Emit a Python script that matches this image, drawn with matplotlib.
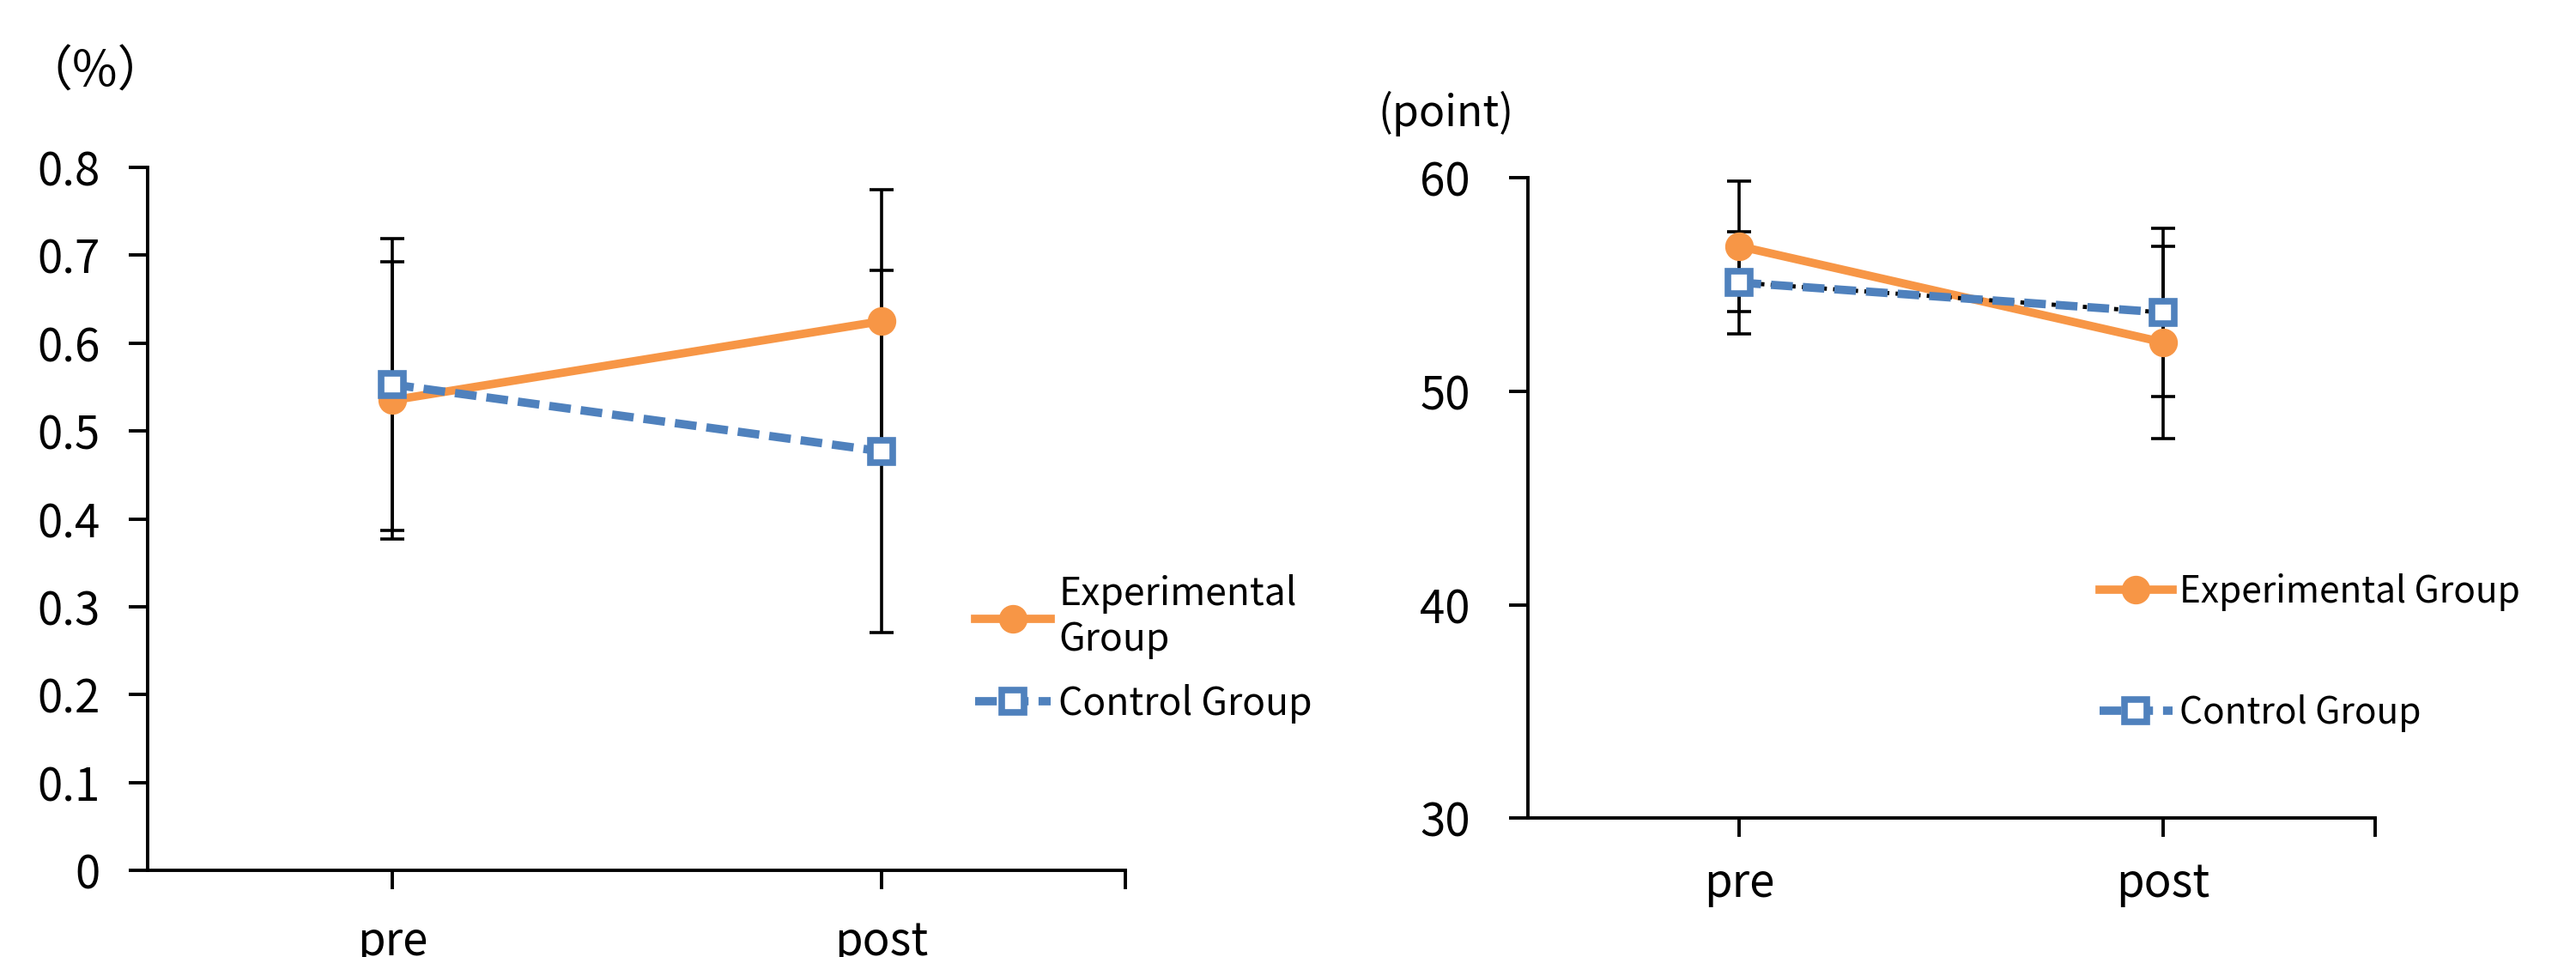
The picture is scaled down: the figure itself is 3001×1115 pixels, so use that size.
import matplotlib.pyplot as plt
from matplotlib.lines import Line2D

plt.rcParams['font.family'] = ['Noto Sans CJK JP', 'DejaVu Sans']

# data
categories = ['pre', 'post']

rate_exp = [0.535, 0.625]
rate_exp_err = [0.158, 0.150]
rate_ctrl = [0.553, 0.477]
rate_ctrl_err = [0.166, 0.206]

point_exp = [56.8, 52.3]
point_exp_err = [3.05, 4.5]
point_ctrl = [55.1, 53.7]
point_ctrl_err = [2.4, 3.95]

orange = '#F79646'
blue = '#4F81BD'
dash = (0, (2.6, 1.2))

fig = plt.figure(figsize=(30.01, 11.15), dpi=100)


def draw_panel(ax, exp, exp_err, ctrl, ctrl_err, dotted=False):
    x = list(range(len(categories)))
    ax.errorbar(x, exp, yerr=exp_err, fmt='none', ecolor='black', elinewidth=2.6,
                capsize=10, capthick=2.6, zorder=2)
    ax.errorbar(x, ctrl, yerr=ctrl_err, fmt='none', ecolor='black', elinewidth=2.6,
                capsize=10, capthick=2.6, zorder=2)
    ax.plot(x, exp, color=orange, lw=7, marker='o', markersize=23,
            markerfacecolor=orange, markeredgecolor=orange, zorder=3)
    if dotted:
        # trend line sitting under the control series
        ax.plot(x, ctrl, color='black', lw=3.5, ls=(0, (1, 1.5)), zorder=3.5)
    ax.plot(x, ctrl, color=blue, lw=7, ls=dash, marker='s', markersize=19,
            markerfacecolor='white', markeredgecolor=blue, markeredgewidth=5.5, zorder=4)
    ax.set_xlim(-0.5, 1.5)
    ax.set_xticks(x)
    ax.set_xticklabels(categories)
    ax.set_xticks([1.5], minor=True)
    for s in ['top', 'right']:
        ax.spines[s].set_visible(False)
    for s in ['left', 'bottom']:
        ax.spines[s].set_linewidth(2.8)
    ax.tick_params(axis='both', which='both', direction='out', width=2.8, length=16,
                   labelsize=38)


# left panel: rate
ax1 = fig.add_axes([0.0573, 0.0906, 0.3797, 0.7344])
draw_panel(ax1, rate_exp, rate_exp_err, rate_ctrl, rate_ctrl_err)
ax1.set_ylim(0, 0.8)
ax1.set_yticks([0, 0.1, 0.2, 0.3, 0.4, 0.5, 0.6, 0.7, 0.8])
ax1.set_yticklabels(['0', '0.1', '0.2', '0.3', '0.4', '0.5', '0.6', '0.7', '0.8'])
ax1.tick_params(axis='x', pad=24)
ax1.tick_params(axis='y', pad=24)
fig.text(0.009, 0.924, '（%）', fontsize=41, va='center', ha='left')

# right panel: score
ax2 = fig.add_axes([0.593, 0.145, 0.329, 0.669])
draw_panel(ax2, point_exp, point_exp_err, point_ctrl, point_ctrl_err, dotted=True)
ax2.set_ylim(30, 60)
ax2.set_yticks([30, 40, 50, 60])
ax2.tick_params(axis='x', pad=19)
ax2.tick_params(axis='y', pad=32)
fig.text(0.535, 0.881, '(point)', fontsize=36, va='center', ha='left')

h_exp = Line2D([], [], color=orange, lw=7, marker='o', markersize=23,
               markerfacecolor=orange, markeredgecolor=orange)
h_ctrl = Line2D([], [], color=blue, lw=7, ls=dash, marker='s', markersize=19,
                markerfacecolor='white', markeredgecolor=blue, markeredgewidth=5.5)

fig.legend([h_exp, h_ctrl], ['Experimental\nGroup', 'Control Group'],
           loc='upper left', bbox_to_anchor=(0.371, 0.42), frameon=False,
           fontsize=32, handlelength=2.0, handletextpad=0.2, labelspacing=0.65,
           borderpad=0)
fig.legend([h_exp, h_ctrl], ['Experimental Group', 'Control Group'],
           loc='upper left', bbox_to_anchor=(0.808, 0.42), frameon=False,
           fontsize=30.5, handlelength=2.0, handletextpad=0.2, labelspacing=2.3,
           borderpad=0)

fig.savefig('out.png', dpi=100)
